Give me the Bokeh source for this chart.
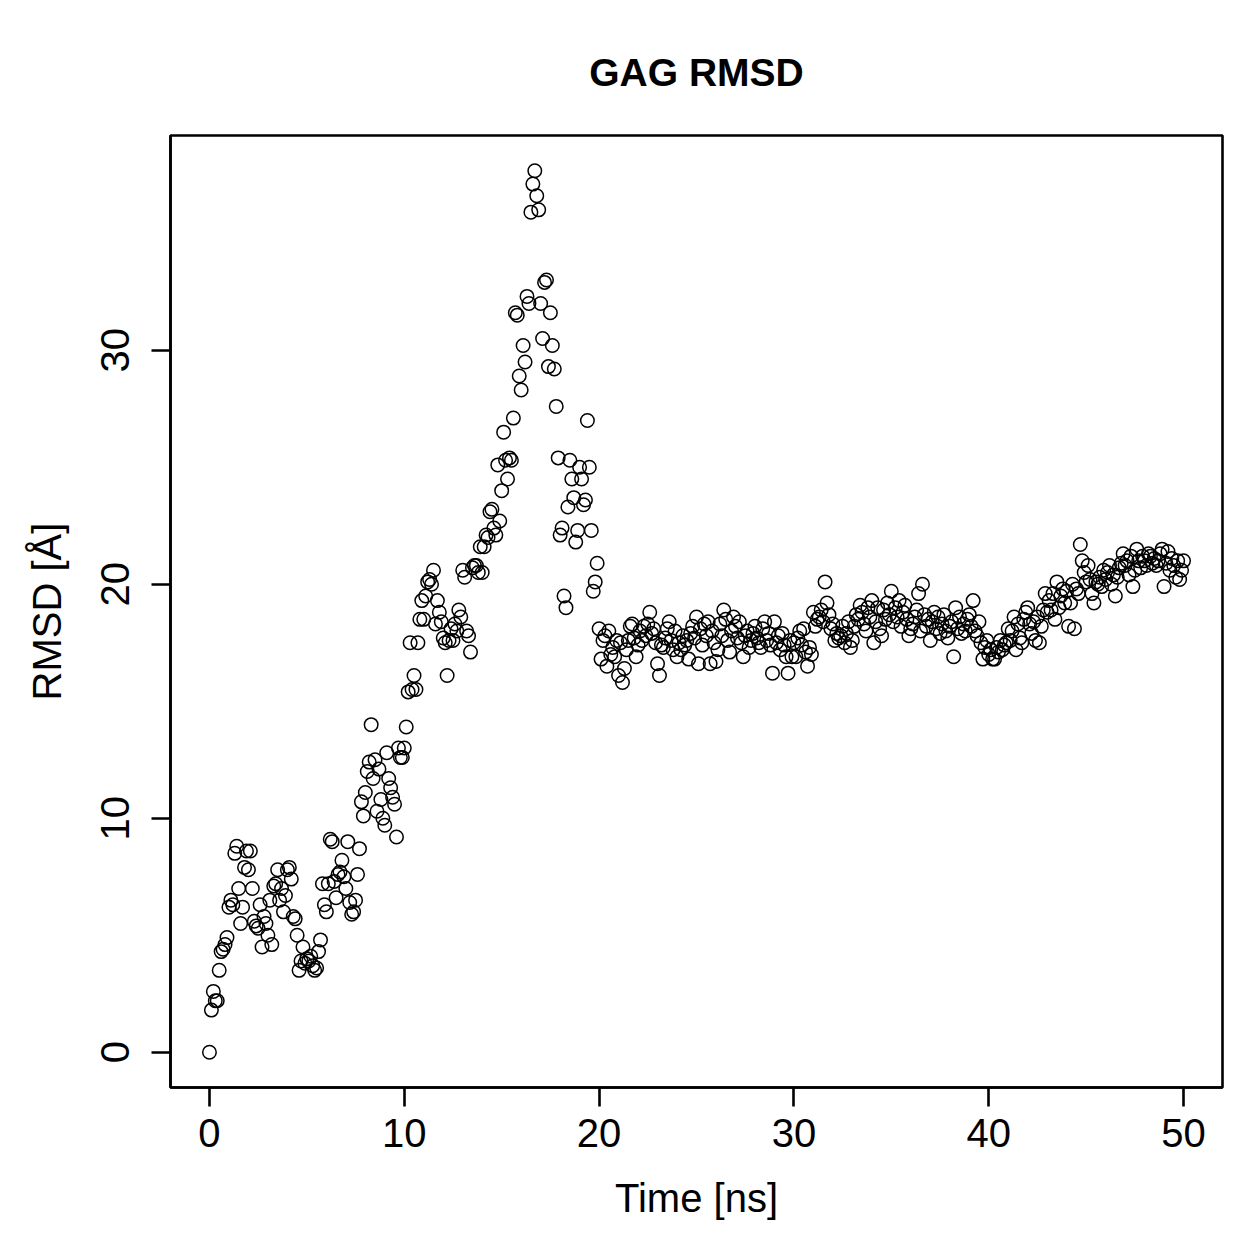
from bokeh.plotting import figure
from bokeh.models import Range1d, FixedTicker
from bokeh.embed import file_html
from bokeh.resources import INLINE

# RMSD of the GAG chain, one frame every 0.1 ns (rows of 10 = 1 ns)
rmsd = [
    0.0, 1.8, 2.6, 2.2, 2.2, 3.5, 4.3, 4.4, 4.6, 4.9,
    6.2, 6.5, 6.3, 8.5, 8.8, 7.0, 5.5, 6.2, 7.9, 8.6,
    7.8, 8.6, 7.0, 5.6, 5.4, 5.3, 6.3, 4.5, 5.8, 5.5,
    5.0, 6.5, 4.6, 7.1, 7.2, 7.8, 6.5, 7.0, 6.0, 6.7,
    7.8, 7.9, 7.4, 5.8, 5.7, 5.0, 3.5, 3.9, 4.5, 3.8,
    4.0, 3.9, 4.1, 3.7, 3.5, 3.6, 4.3, 4.8, 7.2, 6.3,
    6.0, 7.2, 9.1, 9.0, 7.3, 6.6, 7.6, 7.7, 8.2, 7.5,
    7.0, 9.0, 6.4, 5.9, 6.0, 6.5, 7.6, 8.7, 10.7, 10.1,
    11.1, 12.0, 12.4, 14.0, 11.7, 12.5, 10.3, 12.1, 10.8, 10.0,
    9.7, 12.8, 11.7, 11.3, 10.9, 10.6, 9.2, 13.0, 12.6, 12.6,
    13.0, 13.9, 15.4, 17.5, 15.5, 16.1, 15.5, 17.5, 18.5, 19.3,
    18.5, 19.5, 20.1, 20.2, 20.0, 20.6, 18.3, 19.3, 18.8, 18.4,
    17.7, 17.5, 16.1, 17.6, 18.1, 17.6, 18.3, 18.0, 18.9, 18.6,
    20.6, 20.3, 18.0, 17.8, 17.1, 20.7, 20.8, 20.8, 20.5, 21.6,
    20.5, 21.6, 22.1, 22.0, 23.1, 23.2, 22.4, 22.1, 25.1, 22.7,
    24.0, 26.5, 25.3, 24.5, 25.4, 25.3, 27.1, 31.6, 31.5, 28.9,
    28.3, 30.2, 29.5, 32.3, 32.0, 35.9, 37.1, 37.67, 36.6, 36.0,
    32.0, 30.5, 32.9, 33.0, 29.3, 31.6, 30.2, 29.2, 27.6, 25.4,
    22.1, 22.4, 19.5, 19.0, 23.3, 25.3, 24.5, 23.7, 21.8, 22.3,
    25.0, 24.5, 23.4, 23.6, 27.0, 25.0, 22.3, 19.7, 20.1, 20.9,
    18.1, 16.8, 17.6, 17.8, 16.5, 18.0, 17.0, 17.3, 16.9, 17.6,
    16.1, 17.5, 15.8, 16.4, 17.2, 17.6, 18.2, 18.3, 17.7, 16.9,
    17.4, 18.0, 17.6, 18.2, 17.8, 18.3, 18.8, 17.9, 18.1, 17.5,
    16.6, 16.1, 17.4, 17.3, 17.7, 18.1, 18.4, 17.6, 17.2, 18.0,
    16.9, 17.5, 17.2, 17.8, 17.4, 17.6, 16.8, 17.9, 18.2, 17.7,
    18.6, 16.6, 18.1, 17.4, 18.3, 17.8, 18.4, 16.6, 18.0, 17.5,
    16.7, 17.2, 18.3, 17.8, 18.9, 18.5, 17.6, 17.1, 18.0, 18.6,
    18.2, 17.7, 18.4, 17.5, 16.9, 17.8, 18.0, 17.3, 17.6, 17.9,
    18.2, 17.7, 17.5, 17.3, 18.1, 18.4, 17.6, 17.9, 17.4, 16.2,
    18.4, 17.5, 17.8, 17.2, 17.9, 17.4, 16.9, 16.2, 17.6, 16.9,
    17.5, 16.9, 17.7, 18.0, 17.4, 18.1, 17.1, 16.5, 17.3, 17.0,
    18.8, 18.2, 18.5, 18.6, 18.9, 18.4, 20.1, 19.2, 18.7, 18.1,
    18.3, 17.6, 17.9, 17.7, 17.8, 18.2, 17.5, 17.9, 18.4, 17.3,
    17.6, 18.2, 18.7, 18.5, 19.1, 18.8, 18.3, 18.0, 19.0, 18.6,
    19.3, 17.5, 18.4, 19.0, 18.1, 17.8, 18.9, 18.5, 19.2, 18.7,
    19.7, 18.4, 19.0, 18.6, 19.3, 18.2, 18.8, 19.1, 18.5, 17.8,
    18.1, 18.3, 18.6, 18.9, 19.6, 18.0, 20.0, 18.7, 18.2, 18.5,
    17.6, 18.4, 18.8, 18.1, 18.6, 17.9, 18.3, 18.7, 18.0, 17.7,
    18.2, 18.4, 16.9, 19.0, 18.1, 18.6, 17.9, 18.3, 18.0, 18.5,
    18.7, 18.2, 19.3, 18.0, 17.8, 18.4, 17.5, 16.8, 17.3, 17.6,
    17.0, 17.2, 16.8, 16.8, 17.3, 17.1, 17.6, 17.2, 17.4, 17.5,
    18.1, 17.6, 18.0, 18.6, 17.2, 18.3, 17.7, 17.5, 18.5, 18.8,
    19.0, 18.3, 17.9, 18.4, 17.6, 18.6, 17.5, 18.2, 18.9, 19.6,
    18.8, 19.3, 18.9, 19.6, 18.5, 20.1, 19.0, 19.5, 19.8, 19.2,
    19.7, 18.2, 19.2, 20.0, 18.1, 19.8, 19.6, 21.7, 21.0, 20.5,
    20.1, 20.8, 20.2, 19.6, 19.2, 20.1, 20.0, 20.3, 19.9, 20.6,
    20.2, 20.5, 20.8, 20.0, 20.4, 19.5, 20.3, 20.7, 20.9, 21.3,
    20.8, 21.0, 20.4, 21.2, 19.9, 20.6, 21.5, 21.0, 20.7, 21.2,
    21.0, 20.8, 21.3, 21.2, 20.9, 21.1, 20.8, 21.0, 21.3, 21.5,
    19.9, 20.9, 21.4, 20.6, 21.1, 20.8, 20.3, 21.0, 20.2, 20.6,
    21.0,
]
time_ns = [i / 10 for i in range(len(rmsd))]

x_ticks = [0, 10, 20, 30, 40, 50]
y_ticks = [0, 10, 20, 30]

FONT = "Liberation Sans"


def padded(lo, hi, frac=0.04):
    span = hi - lo
    return lo - frac * span, hi + frac * span


p = figure(
    width=1259, height=1259,
    output_backend="svg", toolbar_location=None,
    x_range=Range1d(*padded(min(time_ns), max(time_ns))),
    y_range=Range1d(*padded(min(rmsd), max(rmsd))),
    min_border_left=170, min_border_right=37,
    min_border_top=135, min_border_bottom=172,
    title="GAG RMSD",
    x_axis_label="Time [ns]", y_axis_label="RMSD [Å]",
    background_fill_color="white", border_fill_color="white",
)

p.scatter(time_ns, rmsd, marker="circle", size=13.5,
          fill_color=None, line_color="black", line_width=1.5)

p.title.align = "center"
p.title.text_font = FONT
p.title.text_font_size = "39px"
p.title.text_font_style = "bold"
p.title.text_color = "black"
p.title.standoff = 84

p.xgrid.visible = False
p.ygrid.visible = False
p.outline_line_color = "black"
p.outline_line_width = 2.6
p.outline_line_alpha = 1.0

for ax, ticks in ((p.xaxis[0], x_ticks), (p.yaxis[0], y_ticks)):
    ax.ticker = FixedTicker(ticks=ticks)
    ax.minor_tick_line_color = None
    ax.axis_line_color = "black"
    ax.axis_line_width = 2.6
    ax.major_tick_line_color = "black"
    ax.major_tick_line_width = 2.6
    ax.major_tick_in = 0
    ax.major_tick_out = 19
    ax.major_label_text_font = FONT
    ax.major_label_text_font_size = "40px"
    ax.major_label_text_color = "black"
    ax.axis_label_text_font = FONT
    ax.axis_label_text_font_size = "40px"
    ax.axis_label_text_font_style = "normal"
    ax.axis_label_text_color = "black"

p.xaxis.major_label_standoff = 12
p.xaxis.axis_label_standoff = 26
p.yaxis.major_label_orientation = "vertical"
p.yaxis.major_label_standoff = 22
p.yaxis.axis_label_standoff = 30

open("out.html", "w").write(file_html(p, INLINE))
